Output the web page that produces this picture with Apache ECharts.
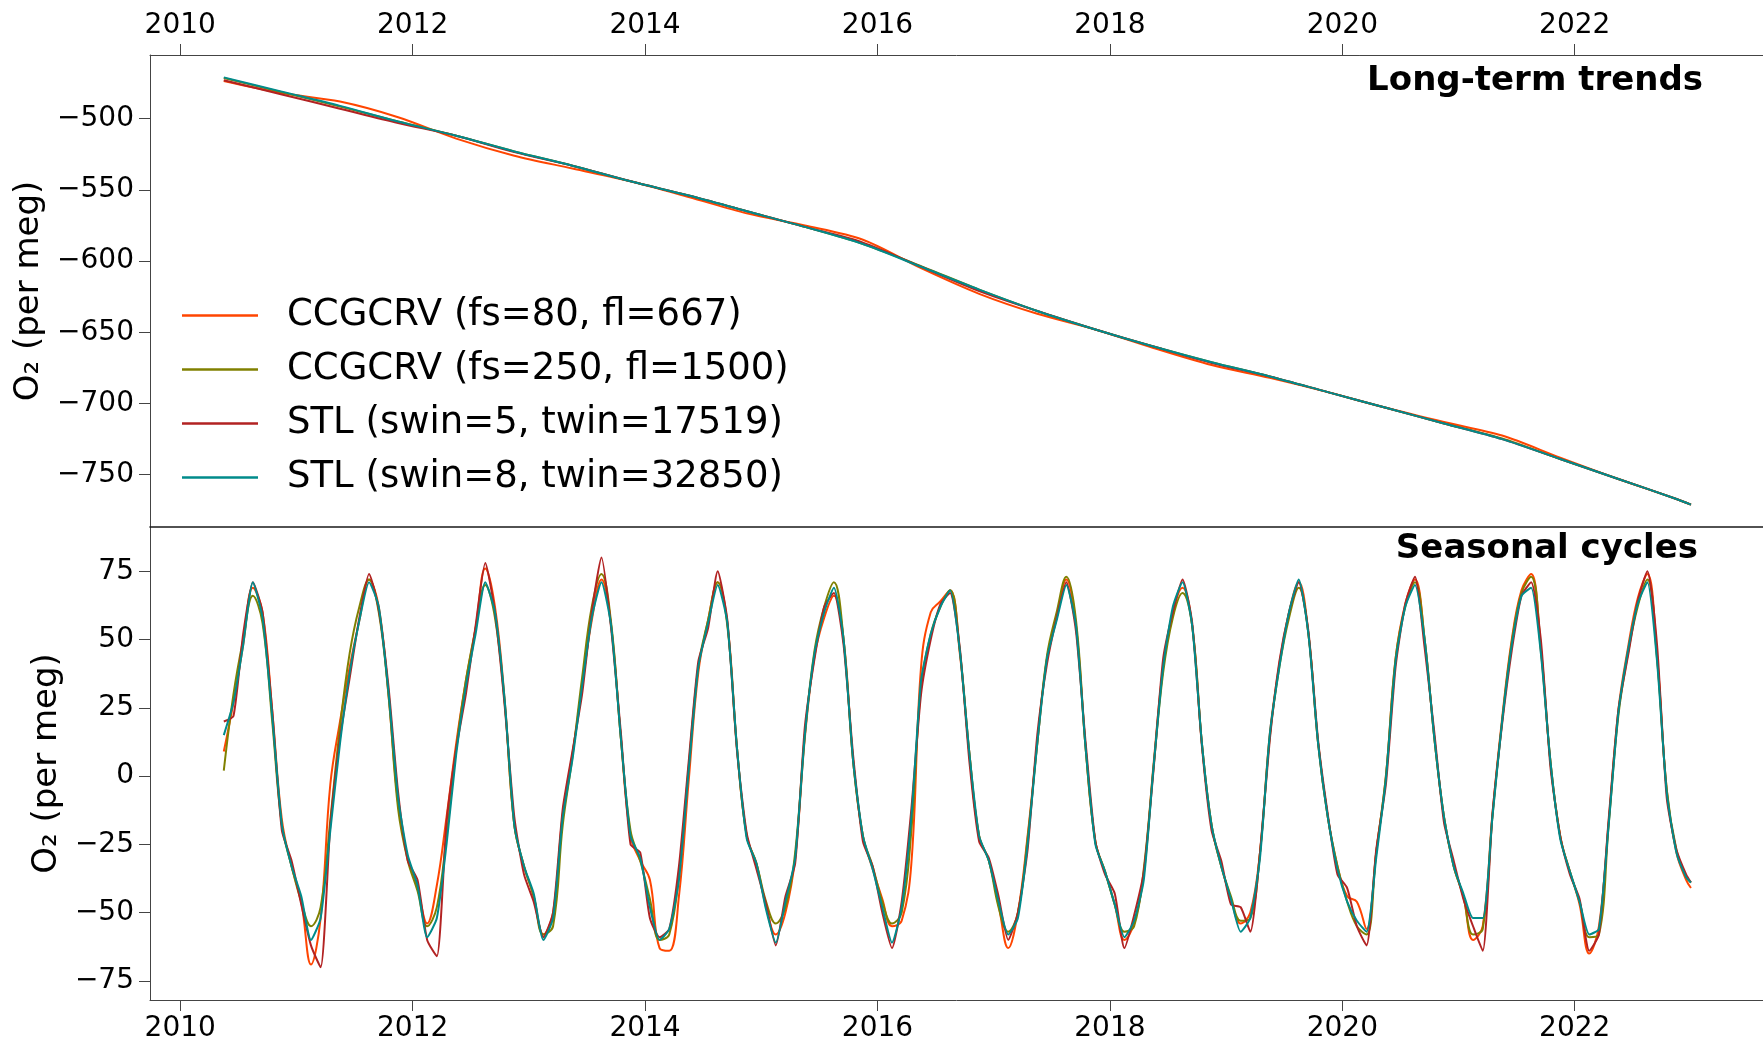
<!DOCTYPE html>
<html>
<head>
<meta charset="utf-8">
<title>O2 trends and seasonal cycles</title>
<script src="https://cdn.jsdelivr.net/npm/echarts@6.0.0/dist/echarts.min.js"></script>
<style>
  html, body { margin: 0; padding: 0; background: #fff; }
  #chart { width: 1763px; height: 1043px; }
</style>
</head>
<body>
<div id="chart"></div>
<script>
// series names / colours
const seriesNames = [
  "CCGCRV (fs=80, fl=667)",
  "CCGCRV (fs=250, fl=1500)",
  "STL (swin=5, twin=17519)",
  "STL (swin=8, twin=32850)",
];
const seriesColors = ["#ff4500", "#808000", "#b22222", "#008b8b"];

// axis ticks
const yearTicks = [2010, 2012, 2014, 2016, 2018, 2020, 2022];
const trendTicks = [-750, -700, -650, -600, -550, -500];
const seasonTicks = [-75, -50, -25, 0, 25, 50, 75];

// long-term trends (per meg), read every half year
const trendYears = [
  2010.375, 2010.875, 2011.375, 2011.875, 2012.375, 2012.875, 2013.375, 2013.875,
  2014.375, 2014.875, 2015.375, 2015.875, 2016.375, 2016.875, 2017.375, 2017.875,
  2018.375, 2018.875, 2019.375, 2019.875, 2020.375, 2020.875, 2021.375, 2021.875,
  2022.375, 2022.875, 2023.0,
];
const trendFs80 = [
  -473.5, -482, -488, -499, -514, -526, -535, -544, -555, -566.5, -575, -585, -605, -623,
  -637, -648, -661, -673, -682, -692, -703, -713, -722.5, -738, -753, -767, -771,
];
const trendFs250 = [
  -471.5, -481.5, -491.5, -502, -512, -523, -533, -544, -554, -565, -576, -588, -603.5, -620,
  -635, -648, -660, -671, -681, -692, -703, -714, -724.5, -739, -753, -767, -771,
];
const trendSwin5 = [
  -473, -483, -493, -503, -512, -523.5, -533, -544, -554, -565, -576, -587, -604, -621,
  -635, -648, -660, -671.5, -681, -692, -703, -714, -725, -739, -753, -767, -771,
];
const trendSwin8 = [
  -471, -481, -491, -502, -512, -523, -533, -544, -554, -565, -576, -588, -604, -620,
  -635, -648, -660, -671, -681, -692, -703, -714, -725, -739, -753, -767, -771,
];

// seasonal cycles (per meg), mid-month from May 2010, last point at 2023.0
const seasonYears = Array.from({ length: 152 }, (_, k) => 2010 + (4.5 + k) / 12);
seasonYears.push(2023.0);

const seasonFs80 = [
  9, 27, 48, 69, 60, 24, -16, -33,
  -46, -69, -52, -3, 20, 40, 57, 72, 62, 30, -10, -30,
  -41, -54, -40, -15, 12, 35, 54, 76, 62, 28, -18, -33,
  -44, -58, -50, -14, 8, 33, 57, 72, 55, 14, -22, -31,
  -38, -63, -64, -44, -2, 38, 57, 71, 56, 10, -22, -32,
  -48, -58, -50, -30, 14, 44, 58, 66, 50, 5, -22, -34,
  -45, -55, -53, -32, 40, 60, 64, 68, 45, 8, -22, -31,
  -47, -63, -50, -22, 12, 43, 58, 72, 55, 10, -24, -35,
  -47, -60, -54, -36, 4, 40, 60, 69, 55, 12, -18, -33,
  -45, -54, -50, -28, 15, 41, 60, 71, 52, 12, -15, -33,
  -44, -46, -56, -28, 0, 43, 63, 72, 50, 14, -15, -33,
  -44, -60, -55, -14, 21, 50, 68, 74, 46, 5, -22, -35,
  -47, -65, -55, -17, 24, 47, 65, 74, 44, -5, -28, -38,
  -41,
];
const seasonFs250 = [
  2, 30, 50, 66, 56, 20, -18, -33,
  -46, -55, -48, -16, 18, 45, 62, 72, 60, 30, -12, -31,
  -42, -55, -48, -22, 10, 35, 54, 70, 58, 27, -18, -33,
  -44, -58, -55, -18, 7, 36, 62, 74, 56, 14, -20, -31,
  -45, -60, -58, -36, 3, 40, 57, 71, 55, 10, -22, -32,
  -46, -54, -48, -28, 15, 46, 62, 71, 50, 5, -22, -33,
  -46, -54, -50, -20, 33, 52, 62, 68, 46, 8, -22, -31,
  -48, -57, -50, -23, 12, 44, 60, 73, 57, 10, -24, -35,
  -47, -57, -55, -34, 3, 38, 58, 67, 55, 12, -18, -33,
  -44, -53, -52, -28, 14, 40, 58, 69, 52, 12, -15, -33,
  -46, -55, -58, -28, 0, 43, 62, 71, 50, 14, -15, -33,
  -44, -58, -56, -15, 20, 49, 67, 73, 47, 5, -22, -35,
  -46, -59, -58, -18, 22, 45, 62, 72, 43, -5, -27, -37,
  -39,
];
const seasonSwin5 = [
  20, 22, 52, 71, 60, 24, -20, -31,
  -47, -62, -70, -18, 14, 36, 58, 74, 61, 33, -6, -31,
  -38, -60, -66, -17, 10, 30, 55, 78, 60, 26, -15, -36,
  -46, -59, -50, -12, 9, 30, 60, 80, 54, 16, -25, -28,
  -52, -59, -56, -33, 5, 42, 54, 75, 57, 9, -21, -34,
  -47, -62, -44, -32, 18, 43, 62, 67, 48, 7, -24, -33,
  -50, -63, -46, -12, 30, 50, 63, 67, 47, 5, -24, -30,
  -44, -60, -50, -27, 15, 41, 58, 71, 53, 12, -24, -36,
  -43, -63, -51, -35, 2, 43, 60, 72, 56, 11, -20, -31,
  -47, -48, -57, -28, 13, 42, 60, 71, 53, 13, -14, -36,
  -41, -55, -62, -27, -3, 40, 63, 73, 47, 16, -17, -31,
  -45, -55, -64, -14, 19, 46, 66, 71, 50, 3, -22, -36,
  -45, -64, -58, -16, 24, 44, 64, 75, 48, -8, -27, -36,
  -39,
];
const seasonSwin8 = [
  15, 27, 48, 71, 58, 22, -18, -33,
  -44, -60, -52, -20, 12, 38, 57, 71, 62, 31, -8, -29,
  -40, -59, -52, -25, 8, 33, 52, 71, 60, 28, -18, -33,
  -43, -60, -52, -15, 6, 33, 58, 71, 55, 14, -22, -30,
  -48, -60, -56, -38, 2, 40, 56, 70, 56, 10, -23, -32,
  -49, -61, -46, -30, 15, 45, 60, 69, 50, 5, -22, -34,
  -48, -61, -48, -15, 35, 52, 62, 68, 46, 8, -22, -31,
  -46, -58, -52, -25, 12, 43, 57, 70, 55, 10, -25, -35,
  -47, -59, -53, -38, 3, 40, 62, 71, 55, 12, -18, -33,
  -45, -57, -52, -30, 15, 40, 60, 72, 52, 12, -15, -34,
  -46, -53, -57, -30, -1, 42, 62, 70, 50, 14, -15, -33,
  -43, -52, -52, -15, 20, 48, 66, 69, 45, 5, -23, -35,
  -46, -58, -56, -18, 23, 46, 63, 71, 42, -6, -28, -37,
  -39,
];

const trendSets = [trendFs80, trendFs250, trendSwin5, trendSwin8];
const seasonSets = [seasonFs80, seasonFs250, seasonSwin5, seasonSwin8];

const X_MIN = 2009.74;
const X_MAX = 2023.62;
const FONT = "DejaVu Sans";
const SPINE = "#444";

const minusFmt = (v) => (v < 0 ? "\u2212" + Math.abs(v) : String(v));
const pairs = (xs, ys) => xs.map((x, i) => [x, ys[i]]);

function xAxis(gridIndex, position, labels, margin) {
  return {
    type: "value",
    gridIndex,
    position,
    min: X_MIN,
    max: X_MAX,
    axisLine: { show: true, onZero: false, lineStyle: { color: SPINE, width: 1 } },
    axisTick: {
      show: labels,
      length: 11,
      customValues: yearTicks,
      lineStyle: { color: SPINE, width: 1 },
    },
    axisLabel: {
      show: labels,
      customValues: yearTicks,
      formatter: (v) => String(v),
      margin,
      fontSize: 28,
      fontFamily: FONT,
      color: "#000",
    },
    splitLine: { show: false },
  };
}

function yAxis(gridIndex, min, max, ticks, nameGap) {
  return {
    type: "value",
    gridIndex,
    min,
    max,
    name: "O\u2082 (per meg)",
    nameLocation: "middle",
    nameRotate: 90,
    nameGap,
    nameTextStyle: { fontSize: 34, fontFamily: FONT, color: "#000" },
    axisLine: { show: true, onZero: false, lineStyle: { color: SPINE, width: 1 } },
    axisTick: { show: true, length: 11, customValues: ticks, lineStyle: { color: SPINE, width: 1 } },
    axisLabel: {
      customValues: ticks,
      formatter: minusFmt,
      margin: 16,
      fontSize: 28,
      fontFamily: FONT,
      color: "#000",
    },
    splitLine: { show: false },
  };
}

const chartDom = document.getElementById("chart");
const myChart = echarts.init(chartDom, null, { renderer: "canvas" });

const series = [];
seriesNames.forEach((name, i) => {
  series.push({
    name,
    type: "line",
    xAxisIndex: 0,
    yAxisIndex: 0,
    data: pairs(trendYears, trendSets[i]),
    symbol: "none",
    smooth: 0.3,
    lineStyle: { color: seriesColors[i], width: 2 },
    itemStyle: { color: seriesColors[i] },
    z: 2 + i,
  });
});
seriesNames.forEach((name, i) => {
  series.push({
    name,
    type: "line",
    xAxisIndex: 2,
    yAxisIndex: 1,
    data: pairs(seasonYears, seasonSets[i]),
    symbol: "none",
    smooth: i < 2 ? 0.4 : 0.2,
    lineStyle: { color: seriesColors[i], width: 2 },
    itemStyle: { color: seriesColors[i] },
    z: 2 + i,
  });
});

const option = {
  animation: false,
  backgroundColor: "#fff",
  title: [
    {
      text: "Long-term trends",
      right: 60,
      top: 64,
      padding: 0,
      textStyle: { fontSize: 34, fontWeight: "bold", fontFamily: FONT, color: "#000" },
    },
    {
      text: "Seasonal cycles",
      right: 65,
      top: 532,
      padding: 0,
      textStyle: { fontSize: 34, fontWeight: "bold", fontFamily: FONT, color: "#000" },
    },
  ],
  legend: {
    orient: "vertical",
    left: 182,
    top: 297,
    padding: 0,
    icon: "rect",
    itemWidth: 76,
    itemHeight: 2.5,
    itemGap: 17,
    data: seriesNames,
    textStyle: { fontSize: 37, fontFamily: FONT, color: "#000", padding: [0, 0, 0, 24] },
  },
  grid: [
    { left: 150, right: 0, top: 55, height: 472, outerBoundsMode: "none" },
    { left: 150, right: 0, top: 527, height: 473, outerBoundsMode: "none" },
  ],
  xAxis: [
    xAxis(0, "top", true, 15),
    // divider between the two panels
    {
      type: "value",
      gridIndex: 0,
      position: "bottom",
      min: X_MIN,
      max: X_MAX,
      axisLine: { show: true, onZero: false, lineStyle: { color: "#1a1a1a", width: 1.6 } },
      axisTick: { show: false },
      axisLabel: { show: false },
      splitLine: { show: false },
    },
    xAxis(1, "bottom", true, 15),
  ],
  yAxis: [
    yAxis(0, -786.7, -455.3, trendTicks, 93),
    yAxis(1, -82, 91.2, seasonTicks, 74),
  ],
  series,
};

myChart.setOption(option);
</script>
</body>
</html>
